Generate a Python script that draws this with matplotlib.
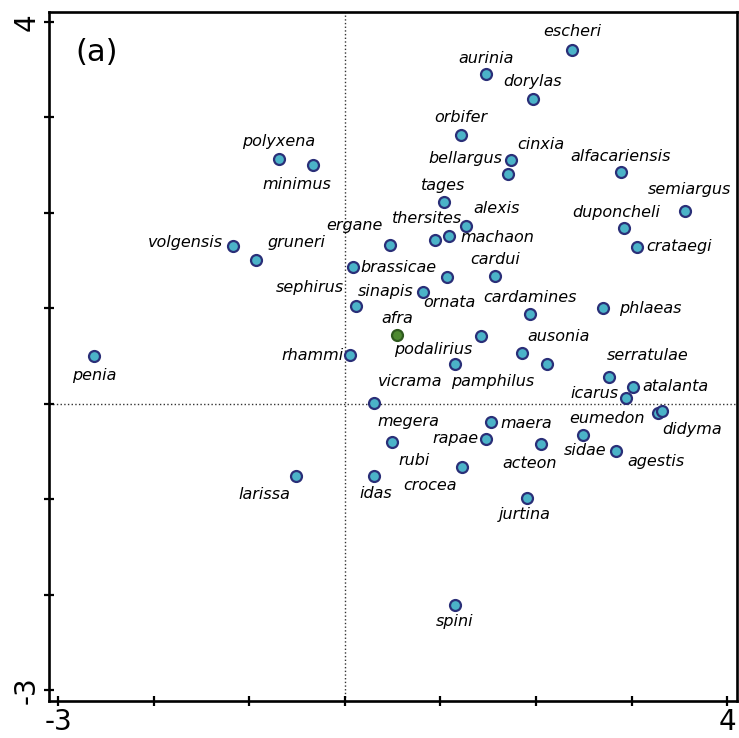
import numpy as np
import matplotlib
matplotlib.use("Agg")
import matplotlib.pyplot as plt

# species ordination scores (axis 1, axis 2)
names = ["escheri", "aurinia", "dorylas", "orbifer", "polyxena", "minimus",
         "cinxia", "bellargus", "alfacariensis", "tages", "semiargus",
         "alexis", "thersites", "machaon", "ergane", "duponcheli", "crataegi",
         "volgensis", "gruneri", "brassicae", "cardui", "ornata", "sinapis",
         "sephirus", "cardamines", "phlaeas", "afra", "podalirius", "ausonia",
         "pamphilus", "vicrama", "rhammi", "penia", "serratulae", "atalanta",
         "icarus", "megera", "eumedon", "didyma", "maera", "rubi", "rapae",
         "acteon", "sidae", "agestis", "idas", "crocea", "jurtina", "spini",
         "larissa"]
axis1 = [2.377, 1.480, 1.964, 1.210, -0.691, -0.329,
         1.741, 1.707, 2.886, 1.032, 3.563,
         1.270, 0.942, 1.089, 0.474, 2.921, 3.058,
         -1.173, -0.929, 0.080, 1.574, 1.068, 0.817,
         0.121, 1.937, 2.697, 0.545, 1.424, 1.853,
         2.111, 1.152, 0.052, -2.622, 2.764, 3.016,
         2.946, 0.300, 3.277, 3.323, 1.532, 0.495, 1.480,
         2.052, 2.495, 2.838, 0.300, 1.225, 1.909, 1.148,
         -0.510]
axis2 = [3.708, 3.453, 3.197, 2.817, 2.568, 2.502,
         2.551, 2.405, 2.426, 2.114, 2.017,
         1.863, 1.719, 1.758, 1.664, 1.842, 1.646,
         1.656, 1.506, 1.436, 1.335, 1.325, 1.171,
         1.027, 0.940, 1.000, 0.717, 0.710, 0.531,
         0.416, 0.416, 0.510, 0.500, 0.277, 0.178,
         0.063, 0.004, -0.094, -0.073, -0.195, -0.401, -0.370,
         -0.422, -0.325, -0.493, -0.761, -0.667, -0.985, -2.103,
         -0.761]
highlight = ["afra"]

# label placement relative to each point (pixels: right, up)
label_shift = {
    "escheri": (0, 18), "aurinia": (0, 16), "dorylas": (0, 17),
    "orbifer": (0, 17), "polyxena": (0, 17), "minimus": (-17, -20),
    "cinxia": (30, 16), "bellargus": (-43, 16), "alfacariensis": (0, 16),
    "tages": (0, 16), "semiargus": (4, 22), "alexis": (30, 17),
    "thersites": (-8, 21), "machaon": (48, -2), "ergane": (-36, 19),
    "duponcheli": (-8, 15), "crataegi": (42, 0), "volgensis": (-47, 3),
    "gruneri": (40, 17), "brassicae": (46, -1), "cardui": (0, 17),
    "ornata": (2, -25), "sinapis": (-37, 0), "sephirus": (-47, 18),
    "cardamines": (0, 17), "phlaeas": (48, 0), "afra": (0, 17),
    "podalirius": (-48, -14), "ausonia": (37, 17), "pamphilus": (-54, -17),
    "vicrama": (-45, -17), "rhammi": (-37, 0), "penia": (0, -19),
    "serratulae": (39, 22), "atalanta": (42, 0), "icarus": (-32, 4),
    "megera": (35, -18), "eumedon": (-51, -6), "didyma": (30, -19),
    "maera": (35, -1), "rubi": (22, -18), "rapae": (-31, 1),
    "acteon": (-11, -19), "sidae": (2, -16), "agestis": (40, -11),
    "idas": (2, -17), "crocea": (-32, -18), "jurtina": (-3, -17),
    "spini": (0, -17), "larissa": (-32, -18),
}

x = np.array(axis1)
y = np.array(axis2)
is_hl = np.array([n in highlight for n in names])

fig = plt.figure(figsize=(7.39, 7.38), dpi=100)
ax = fig.add_axes([0.0659, 0.0505, 0.9310, 0.9328])

ax.axvline(0, color="#333333", linestyle=":", linewidth=1.0, zorder=1)
ax.axhline(0, color="#333333", linestyle=":", linewidth=1.0, zorder=1)

ax.scatter(x[~is_hl], y[~is_hl], s=62, facecolor="#4bb3c8",
           edgecolor="#2a2f78", linewidth=1.6, zorder=3)
ax.scatter(x[is_hl], y[is_hl], s=62, facecolor="#4e8a30",
           edgecolor="#2f5a1e", linewidth=1.6, zorder=3)

for n, xi, yi in zip(names, x, y):
    dx, dy = label_shift[n]
    ax.annotate(n, (xi, yi), xytext=(dx * 0.72, dy * 0.72),
                textcoords="offset points", ha="center", va="center",
                fontsize=11.5, style="italic", color="black", zorder=4)

ax.text(0.070, 0.942, "(a)", transform=ax.transAxes, fontsize=22,
        ha="center", va="center")

ax.set_xlim(-3.10, 4.10)
ax.set_ylim(-3.11, 4.10)
ticks = np.arange(-3, 5)
ax.set_xticks(ticks)
ax.set_yticks(ticks)
ax.set_xticklabels(["-3"] + [""] * 6 + ["4"])
ax.set_yticklabels(["-3"] + [""] * 6 + ["4"])
ax.tick_params(direction="inout", length=7, width=1.6, labelsize=20, pad=2)
plt.setp(ax.get_yticklabels(), rotation=90, va="center")

for sp in ax.spines.values():
    sp.set_linewidth(1.9)

fig.savefig("out.png", dpi=100)
